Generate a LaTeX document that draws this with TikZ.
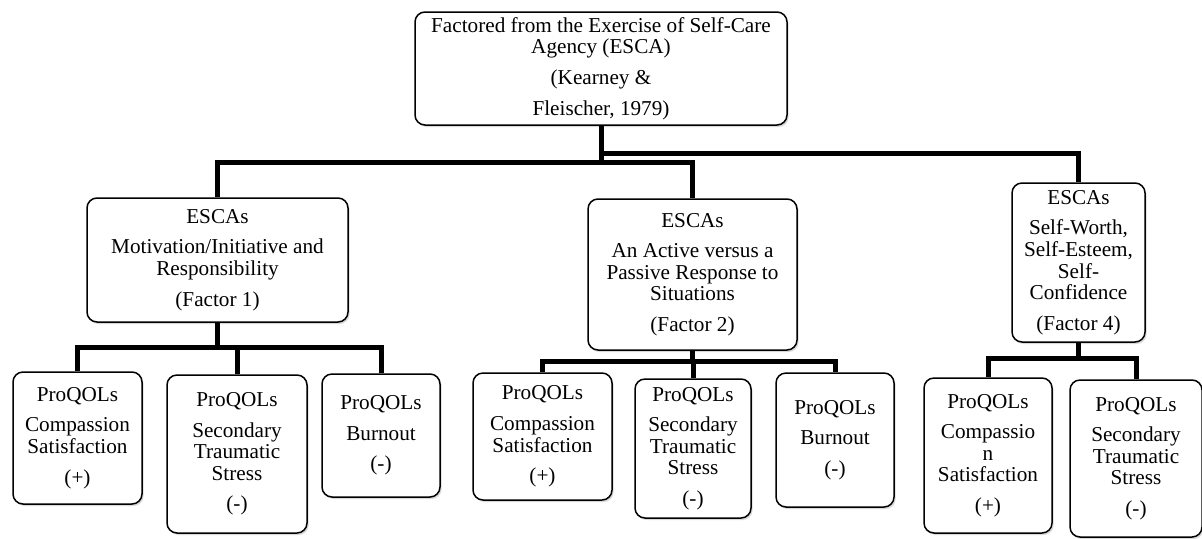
\documentclass[tikz,border=0pt]{standalone}
\usepackage{fontspec}
\setmainfont{Liberation Serif}
\usetikzlibrary{shadows}
\begin{document}
\begin{tikzpicture}[x=0.5pt, y=0.5pt,
  box/.style={draw, line width=0.75pt, rounded corners=5pt, fill=white, align=center, inner sep=1pt,
    font=\fontsize{10.6}{10.8}\selectfont,
    drop shadow={shadow xshift=0.8pt, shadow yshift=-1pt, opacity=0.3}},
  link/.style={line width=2.5pt}]
  \useasboundingbox (0, 0) rectangle (1202, 538);

  \node[box, minimum width=186pt, minimum height=56.5pt] (top) at (601, 469.5)
    {Factored from the Exercise of Self-Care\\Agency (ESCA)\\[4.5pt](Kearney \&\\[4.5pt]Fleischer, 1979)};

  \node[box, minimum width=130.5pt, minimum height=62pt] (escaA) at (217.5, 278)
    {ESCAs\\[4.5pt]Motivation/Initiative and\\Responsibility\\[4.5pt](Factor 1)};
  \node[box, minimum width=104.5pt, minimum height=75.5pt] (escaB) at (692.5, 263.5)
    {ESCAs\\[4.5pt]An Active versus a\\Passive Response to\\Situations\\[4.5pt](Factor 2)};
  \node[box, minimum width=66.5pt, minimum height=79.5pt] (escaC) at (1078.5, 275.5)
    {ESCAs\\[4.5pt]Self-Worth,\\Self-Esteem,\\Self-\\Confidence\\[4.5pt](Factor 4)};

  \node[box, minimum width=64.5pt, minimum height=66pt] (cs1) at (77.5, 100)
    {ProQOLs\\[4.5pt]Compassion\\Satisfaction\\[4.5pt](+)};
  \node[box, minimum width=70pt, minimum height=79pt] (sts1) at (237, 84)
    {ProQOLs\\[4.5pt]Secondary\\Traumatic\\Stress\\[4.5pt](-)};
  \node[box, minimum width=59pt, minimum height=61.5pt] (bo1) at (381, 102.5)
    {ProQOLs\\[4.5pt]Burnout\\[4.5pt](-)};

  \node[box, minimum width=69.5pt, minimum height=63.5pt] (cs2) at (542.5, 101.5)
    {ProQOLs\\[4.5pt]Compassion\\Satisfaction\\[4.5pt](+)};
  \node[box, minimum width=58pt, minimum height=69.5pt] (sts2) at (693, 89.5)
    {ProQOLs\\[4.5pt]Secondary\\Traumatic\\Stress\\[4.5pt](-)};
  \node[box, minimum width=59pt, minimum height=67pt] (bo2) at (835, 98)
    {ProQOLs\\[4.5pt]Burnout\\[4.5pt](-)};

  \node[box, minimum width=64pt, minimum height=77.5pt] (cs3) at (988, 82.5)
    {ProQOLs\\[4.5pt]Compassio\\n\\Satisfaction\\[4.5pt](+)};
  \node[box, minimum width=66pt, minimum height=78.5pt] (sts3) at (1136, 79.5)
    {ProQOLs\\[4.5pt]Secondary\\Traumatic\\Stress\\[4.5pt](-)};

  \coordinate (topjoin) at (601, 376);
  \coordinate (topjoinR) at (601, 385);
  \coordinate (ajoin) at (217.5, 191);
  \coordinate (bjoin) at (692.5, 177);
  \coordinate (cjoin) at (1078.5, 180);

  \begin{scope}[link]
    \draw (top.south) -- (topjoin) -| (escaA.north);
    \draw (topjoin) -| (escaB.north);
    \draw (topjoinR) -| (escaC.north);

    \draw (escaA.south) -- (ajoin) -| (cs1.north);
    \draw (ajoin) -| (sts1.north);
    \draw (ajoin) -| (bo1.north);

    \draw (escaB.south) -- (bjoin) -| (cs2.north);
    \draw (bjoin) -| (sts2.north);
    \draw (bjoin) -| (bo2.north);

    \draw (escaC.south) -- (cjoin) -| (cs3.north);
    \draw (cjoin) -| (sts3.north);
  \end{scope}
\end{tikzpicture}
\end{document}
